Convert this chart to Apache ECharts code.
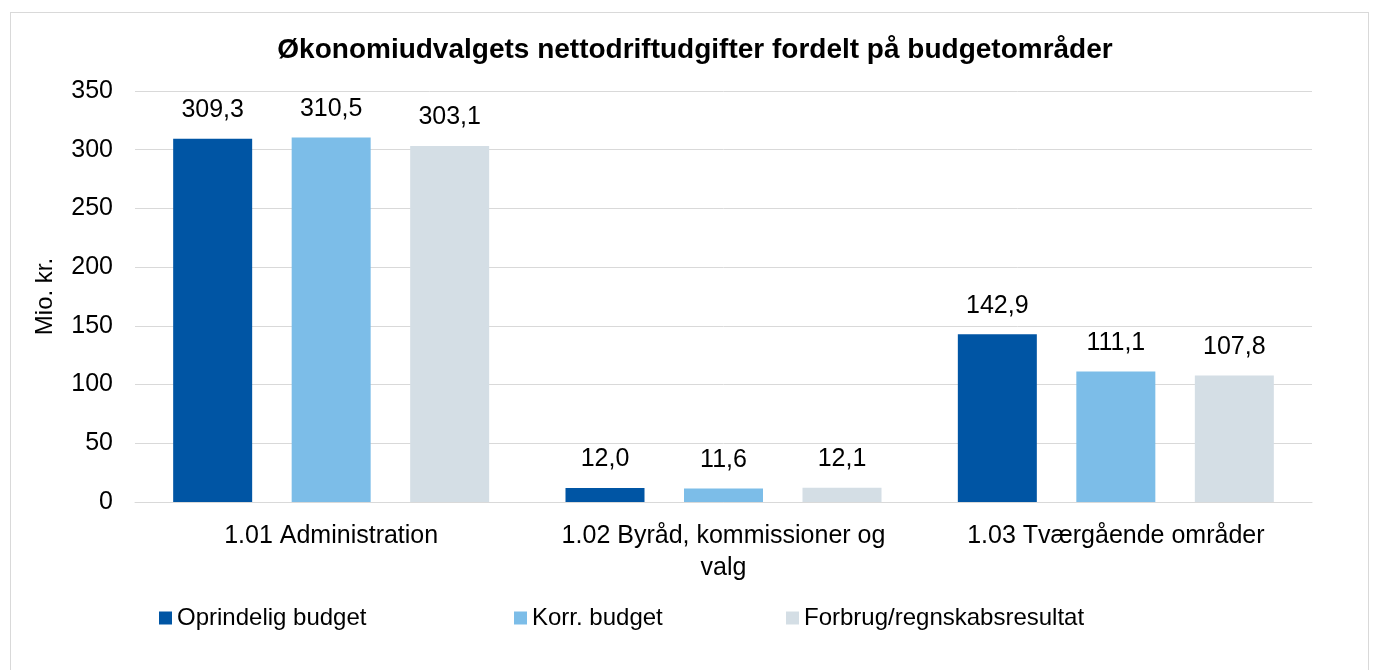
<!DOCTYPE html>
<html>
<head>
<meta charset="utf-8">
<title>Økonomiudvalgets nettodriftudgifter</title>
<script src="https://cdn.jsdelivr.net/npm/echarts@6/dist/echarts.min.js"></script>
<style>
  html, body { margin: 0; padding: 0; background: #fff; }
  #frame { position: absolute; left: 10px; top: 12px; width: 1359px; height: 700px; border: 1px solid #d9d9d9; box-sizing: border-box; }
  #chart { position: absolute; left: 0; top: 0; width: 1376px; height: 670px; }
</style>
</head>
<body>
<div id="frame"></div>
<div id="chart"></div>
<script>
// kategorier og serier
const categories = ["1.01 Administration", "1.02 Byråd, kommissioner og\nvalg", "1.03 Tværgående områder"];
const seriesNames = ["Oprindelig budget", "Korr. budget", "Forbrug/regnskabsresultat"];
const oprindelig = [309.3, 12.0, 142.9];
const korr = [310.5, 11.6, 111.1];
const forbrug = [303.1, 12.1, 107.8];
const colors = ["#0055a4", "#7cbde8", "#d4dee5"];
const legendLeft = [159, 514, 786];

const font = "Liberation Sans, Arial, sans-serif";
const fmt = v => v.toFixed(1).replace(".", ",");

const chart = echarts.init(document.getElementById("chart"));

const makeSeries = (name, data, color) => ({
  name: name,
  type: "bar",
  data: data,
  barWidth: 79,
  barGap: "50%",
  itemStyle: { color: color },
  label: {
    show: true,
    position: "top",
    distance: 16,
    color: "#000",
    fontFamily: font,
    fontSize: 25,
    formatter: p => fmt(p.value)
  }
});

const option = {
  animation: false,
  textStyle: { fontFamily: font },
  title: {
    text: "Økonomiudvalgets nettodriftudgifter fordelt på budgetområder",
    left: 690,
    textAlign: "center",
    top: 31,
    textStyle: { fontFamily: font, fontSize: 28, fontWeight: "bold", color: "#000" }
  },
  legend: seriesNames.map((n, i) => ({
    data: [n],
    left: legendLeft[i],
    top: 606,
    padding: 0,
    itemWidth: 13,
    itemHeight: 13,
    icon: "rect",
    textStyle: { fontFamily: font, fontSize: 24, color: "#000" }
  })),
  grid: { left: 135, right: 64, top: 91, bottom: 168 },
  xAxis: {
    type: "category",
    data: categories,
    axisLine: { lineStyle: { color: "#d9d9d9", width: 1 } },
    axisTick: { show: false },
    axisLabel: {
      interval: 0,
      color: "#000",
      fontFamily: font,
      fontSize: 25,
      margin: 18,
      lineHeight: 32
    }
  },
  yAxis: {
    type: "value",
    min: 0,
    max: 350,
    interval: 50,
    name: "Mio. kr.",
    nameLocation: "middle",
    nameRotate: 90,
    nameGap: 78,
    nameTextStyle: { color: "#000", fontFamily: font, fontSize: 24 },
    axisLine: { show: false },
    axisTick: { show: false },
    axisLabel: { color: "#000", fontFamily: font, fontSize: 25, margin: 22 },
    splitLine: { lineStyle: { color: "#d9d9d9", width: 1 } }
  },
  series: [
    makeSeries(seriesNames[0], oprindelig, colors[0]),
    makeSeries(seriesNames[1], korr, colors[1]),
    makeSeries(seriesNames[2], forbrug, colors[2])
  ]
};

chart.setOption(option);
</script>
</body>
</html>
